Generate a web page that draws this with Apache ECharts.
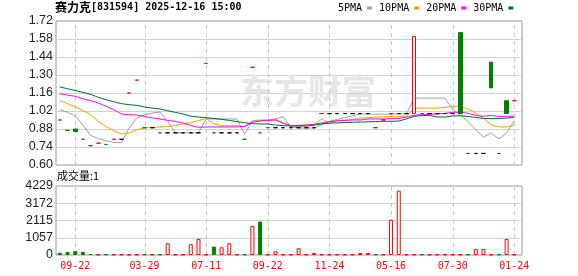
<!DOCTYPE html>
<html><head><meta charset="utf-8">
<script src="https://cdn.jsdelivr.net/npm/echarts@6/dist/echarts.min.js"></script>
<style>html,body{margin:0;padding:0;background:#fff}#c{width:578px;height:276px}</style>
</head><body><div id="c"></div>
<script>
const stockName = '赛力克';
const stockCode = '[831594]';
const dateTime = '2025-12-16 15:00';
const volumeTitle = '成交量:1';
const watermark = '东方财富';
const maNames = ['5PMA', '10PMA', '20PMA', '30PMA'];

const tickIdx = [2, 11, 19, 27, 35, 43, 51, 59];
const tickLabels = ['09-22', '03-29', '07-11', '09-22', '11-24', '05-16', '07-30', '01-24'];
const priceTicks = [0.60, 0.74, 0.88, 1.02, 1.16, 1.30, 1.44, 1.58, 1.72];
const volTicks = [0, 1057.25, 2114.5, 3171.75, 4229];

const prevClose = 0.96;
const opens = [0.95,0.87,0.88,0.80,0.75,0.77,0.76,0.80,0.80,1.16,
  1.26,0.89,0.89,0.85,0.85,0.85,0.85,0.85,0.85,1.39,
  0.85,0.85,0.85,0.85,0.80,1.36,0.85,0.89,0.89,0.89,
  0.89,0.89,0.89,0.89,1.00,1.00,1.00,1.00,1.00,1.00,
  1.00,0.89,0.95,1.00,1.00,1.00,1.00,1.00,1.00,1.00,
  1.00,1.00,1.63,0.69,0.69,0.69,1.40,0.69,1.10,1.10];
const closes = [0.95,0.87,0.86,0.80,0.75,0.77,0.76,0.80,0.80,1.16,
  1.26,0.89,0.89,0.85,0.85,0.85,0.85,0.85,0.85,1.39,
  0.85,0.85,0.85,0.85,0.80,1.36,0.85,0.89,0.89,0.89,
  0.89,0.89,0.89,0.89,1.00,1.00,1.00,1.00,1.00,1.00,
  1.00,0.89,0.95,1.00,1.00,1.00,1.60,1.00,1.00,1.00,
  1.00,1.00,1.00,0.69,0.69,0.69,1.20,0.69,1.00,1.10];
const highs = [0.95,0.87,0.88,0.80,0.75,0.77,0.76,0.80,0.80,1.16,
  1.26,0.89,0.89,0.85,0.85,0.85,0.85,0.85,0.85,1.39,
  0.85,0.85,0.85,0.85,0.80,1.36,0.85,0.89,0.89,0.89,
  0.89,0.89,0.89,0.89,1.00,1.00,1.00,1.00,1.00,1.00,
  1.00,0.89,0.95,1.00,1.00,1.00,1.60,1.00,1.00,1.00,
  1.00,1.00,1.63,0.69,0.69,0.69,1.40,0.69,1.10,1.10];
const lows = [0.95,0.87,0.86,0.80,0.75,0.77,0.76,0.80,0.80,1.16,
  1.26,0.89,0.89,0.85,0.85,0.85,0.85,0.85,0.85,1.39,
  0.85,0.85,0.85,0.85,0.80,1.36,0.85,0.89,0.89,0.89,
  0.89,0.89,0.89,0.89,1.00,1.00,1.00,1.00,1.00,1.00,
  1.00,0.89,0.95,1.00,1.00,1.00,1.00,1.00,1.00,1.00,
  1.00,1.00,1.00,0.69,0.69,0.69,1.20,0.69,1.00,1.10];

const ma5 = [1.03,1.01,0.98,0.91,0.83,0.805,0.787,0.776,0.774,0.888,
  0.966,0.991,1.004,1.012,0.94,0.854,0.849,0.85,0.85,0.958,
  0.958,0.958,0.958,0.958,0.84,0.942,0.942,0.95,0.958,0.976,
  0.896,0.888,0.888,0.888,0.913,0.94,0.955,0.968,0.983,0.997,
  0.997,0.995,0.995,0.995,0.997,0.997,1.12,1.12,1.12,1.12,
  1.12,1.03,0.986,0.939,0.875,0.818,0.849,0.802,0.849,0.944];
const ma10 = [1.10,1.077,1.051,1.025,0.991,0.939,0.90,0.867,0.841,0.849,
  0.875,0.888,0.893,0.896,0.90,0.906,0.919,0.93,0.945,0.962,
  0.921,0.906,0.906,0.906,0.90,0.944,0.95,0.95,0.955,0.927,
  0.906,0.91,0.91,0.91,0.958,0.924,0.945,0.948,0.952,0.965,
  0.968,0.972,0.975,0.978,0.978,0.98,1.043,1.043,1.043,1.043,
  1.048,1.056,1.056,1.036,1.004,0.962,0.913,0.896,0.896,0.911];
const ma20 = [1.155,1.144,1.134,1.116,1.10,1.082,1.056,1.03,0.997,0.991,
  0.989,0.978,0.966,0.958,0.947,0.939,0.927,0.906,0.893,0.896,
  0.896,0.896,0.896,0.896,0.90,0.931,0.944,0.947,0.95,0.924,
  0.906,0.906,0.911,0.916,0.927,0.937,0.944,0.947,0.95,0.95,
  0.958,0.958,0.958,0.96,0.962,0.973,0.986,0.991,0.994,0.997,
  1.002,1.009,1.012,1.002,0.986,0.978,0.986,0.978,0.978,0.981];
const ma30 = [1.207,1.193,1.18,1.165,1.149,1.126,1.108,1.092,1.077,1.069,
  1.064,1.051,1.043,1.036,1.022,1.009,0.997,0.98,0.973,0.968,
  0.962,0.955,0.947,0.937,0.929,0.921,0.919,0.919,0.911,0.906,
  0.903,0.903,0.903,0.91,0.92,0.925,0.928,0.93,0.932,0.934,
  0.936,0.938,0.94,0.94,0.942,0.958,0.978,0.986,0.986,0.973,
  0.973,0.981,0.983,0.978,0.97,0.962,0.96,0.962,0.965,0.97];

const volumes = [142,185,246,185,60,30,40,30,30,30,
  30,40,30,40,720,30,30,660,985,30,
  513,472,720,30,40,1785,2052,30,228,30,
  30,410,30,123,30,30,30,30,30,123,
  123,40,30,2155,3940,30,30,40,30,30,
  30,30,30,40,370,370,30,40,985,30];

const RED = '#ff0000', GREEN = '#008000', FLAT = '#000000';
const maColors = ['#a0a0a0', '#f5a000', '#ff00ff', '#006b33'];
const monoFont = "'DejaVu Sans Mono', 'Noto Sans CJK SC', monospace";
const N = opens.length;
const priceMin = priceTicks[0], priceMax = priceTicks[priceTicks.length - 1];
const volMax = volTicks[volTicks.length - 1];

function candleTone(i) {
  const o = opens[i], c = closes[i];
  if (c > o) return 1;
  if (c < o) return -1;
  const p = i ? closes[i - 1] : prevClose;
  return c > p ? 1 : (c < p ? -1 : 0);
}
const candleData = opens.map((o, i) => {
  const t = candleTone(i);
  const stroke = t > 0 ? RED : (t < 0 ? GREEN : FLAT);
  const fill = t > 0 ? '#ffffff' : stroke;
  return {
    value: [i, o, closes[i], lows[i], highs[i]],
    itemStyle: { color: fill, color0: fill, borderColor: stroke, borderColor0: stroke, borderColorDoji: stroke, borderWidth: 1 }
  };
});
const volData = volumes.map((v, i) => {
  const p = i ? closes[i - 1] : prevClose;
  const up = closes[i] >= p;
  return { value: [i, v], itemStyle: { color: up ? '#ffffff' : GREEN, borderColor: up ? RED : GREEN, borderWidth: 1 } };
});

// dashed vertical grid lines at the labelled positions, placed through the axes
function gridLines(gridIdx, lo, hi) {
  return {
    type: 'custom', xAxisIndex: gridIdx, yAxisIndex: gridIdx, z: 1, silent: true,
    data: tickIdx.map(i => [i]),
    renderItem: (params, api) => {
      const x = api.value(0);
      const p1 = api.coord([x, lo]);
      const p2 = api.coord([x, hi]);
      const px = Math.round(p1[0]) + 0.5;
      return { type: 'line', silent: true,
        shape: { x1: px, y1: p1[1], x2: px, y2: p2[1] },
        style: { stroke: '#c4c4c4', lineWidth: 1, lineDash: [4, 4], fill: null } };
    }
  };
}

const chart = echarts.init(document.getElementById('c'), null, { renderer: 'canvas' });
chart.setOption({
  animation: false,
  backgroundColor: '#ffffff',
  title: [
    { text: '{a|' + stockName + '}{b|' + stockCode + ' ' + dateTime + '}', left: 55, top: 1, padding: 0,
      textStyle: { rich: {
        a: { fontFamily: 'Noto Sans CJK SC', fontSize: 12, color: '#000' },
        b: { fontFamily: monoFont, fontSize: 10, color: '#000' } } } },
    { text: volumeTitle, left: 57, top: 170, padding: 0,
      textStyle: { fontFamily: "'Noto Sans CJK SC'", fontSize: 11, fontWeight: 'normal', color: '#000' } }
  ],
  legend: {
    data: maNames, left: 338, top: 3, align: 'right', icon: 'rect',
    itemWidth: 5, itemHeight: 3, itemGap: 7, padding: 0,
    textStyle: { fontFamily: monoFont, fontSize: 10, color: '#000' }
  },
  graphic: [{
    type: 'text', left: 240, top: 74, z: 1, silent: true,
    style: { text: watermark, fill: '#e6e6e6', font: 'bold 34px "Noto Sans CJK SC"' }
  }],
  grid: [
    { left: 56, top: 21, width: 466, height: 144, show: true, borderColor: '#999999', borderWidth: 1, backgroundColor: 'transparent' },
    { left: 56, top: 186, width: 466, height: 69, show: true, borderColor: '#999999', borderWidth: 1, backgroundColor: 'transparent' }
  ],
  xAxis: [
    { type: 'value', gridIndex: 0, min: -0.5, max: N,
      axisLine: { show: false }, axisTick: { show: false }, axisLabel: { show: false }, splitLine: { show: false } },
    { type: 'value', gridIndex: 1, min: -0.5, max: N,
      axisLine: { show: false }, axisTick: { show: false, customValues: tickIdx },
      axisLabel: { show: true, customValues: tickIdx, color: RED, fontFamily: monoFont, fontSize: 10, margin: 6,
        formatter: v => tickLabels[tickIdx.indexOf(Math.round(v))] || '' },
      splitLine: { show: false } }
  ],
  yAxis: [
    { type: 'value', gridIndex: 0, min: priceMin, max: priceMax,
      axisLine: { show: false }, axisTick: { show: false, customValues: priceTicks },
      axisLabel: { customValues: priceTicks, formatter: v => v.toFixed(2), color: '#222', fontFamily: 'Liberation Sans', fontSize: 12.5, margin: 3 },
      splitLine: { show: true, showMinLine: false, showMaxLine: false, lineStyle: { color: '#d2d2d2' } } },
    { type: 'value', gridIndex: 1, min: 0, max: volMax,
      axisLine: { show: false }, axisTick: { show: false, customValues: volTicks },
      axisLabel: { customValues: volTicks, formatter: v => String(Math.round(v)), color: '#222', fontFamily: 'Liberation Sans', fontSize: 12.5, margin: 3 },
      splitLine: { show: true, showMinLine: false, showMaxLine: false, lineStyle: { color: '#d2d2d2' } } }
  ],
  series: [
    gridLines(0, priceMin, priceMax),
    gridLines(1, 0, volMax),
    ...[ma5, ma10, ma20, ma30].map((arr, k) => ({
      name: maNames[k], type: 'line', xAxisIndex: 0, yAxisIndex: 0, z: 2,
      data: arr.map((v, i) => [i, v]), symbol: 'none', showSymbol: false,
      color: maColors[k], lineStyle: { width: 1, color: maColors[k] }
    })),
    { type: 'candlestick', xAxisIndex: 0, yAxisIndex: 0, z: 3, barWidth: 4,
      dimensions: ['idx', 'open', 'close', 'lowest', 'highest'],
      encode: { x: 'idx', y: ['open', 'close', 'lowest', 'highest'] },
      data: candleData },
    { type: 'bar', xAxisIndex: 1, yAxisIndex: 1, barWidth: 4, data: volData }
  ]
});
</script></body></html>
